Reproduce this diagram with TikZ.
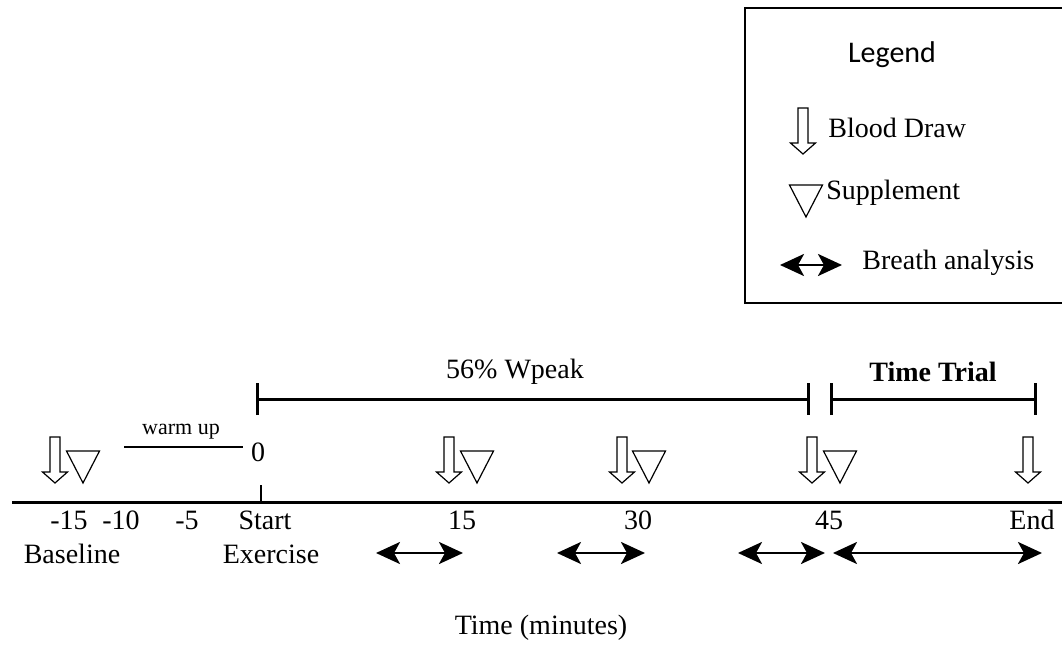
\documentclass[tikz,border=0pt]{standalone}
\usepackage{fontspec}
\setmainfont{Liberation Serif}
\newfontfamily\legendfont{Carlito}
\usetikzlibrary{arrows.meta}

\tikzset{
    blood/.pic={\draw[line width=0.6pt] (-5,0)--(5,0)--(5,35)--(12.5,35)--(0,46)--(-12.5,35)--(-5,35)--cycle;},
    supp/.pic={\draw[line width=0.6pt] (-16.5,0)--(16.5,0)--(0,32)--cycle;},
    lbl/.style={font=\fontsize{14}{17}\selectfont, inner sep=0pt},
    phase/.style={line width=1.5pt, {Bar[width=16pt]}-{Bar[width=16pt]}},
    breath/.style={line width=1.4pt, {Stealth[length=12pt,width=11pt,inset=3pt]}-{Stealth[length=12pt,width=11pt,inset=3pt]}}
}

\begin{document}
\begin{tikzpicture}[x=0.5pt,y=-0.5pt]
                \useasboundingbox (0,0) rectangle (1062,648);
                % legend
                \draw[line width=0.6pt] (745,8) rectangle (1075,303);
                \node[inner sep=0pt] (legend) at (892,55) {\legendfont\fontsize{15}{18}\selectfont Legend};
                \pic at (803,108) {blood};
                \node[lbl,anchor=west] (lblood) at (828,128) {Blood Draw};
                \pic at (806,185) {supp};
                \node[lbl,anchor=west] (lsupp) at (826,193) {Supplement};
                \coordinate (lb1) at (780,265);
                \coordinate (lb2) at (842,265);
                \draw[breath] (lb1)--(lb2);
                \node[lbl,anchor=west] (lbreath) at (862,263) {Breath analysis};
                % time axis
                \coordinate (ax1) at (12,502);
                \coordinate (ax2) at (1075,502);
                \draw[line width=1.5pt] (ax1)--(ax2);
                \coordinate (st) at (261,502);
                \draw[line width=0.8pt] (st)--++(0,-17);
                \coordinate (wu1) at (124,447);
                \coordinate (wu2) at (243,447);
                \draw[line width=0.8pt] (wu1)--(wu2);
                \node[inner sep=0pt,font=\fontsize{11}{13}\selectfont] (warm) at (181,432) {warm up};
                \node[lbl] (zero) at (258,452) {0};
                % blood draws and supplements
                \foreach \bx/\sx in {55/83,449/477,622/649,812/840}{
                    \pic at (\bx,437) {blood};
                    \pic at (\sx,451) {supp};
                }
                \pic at (1028,437) {blood};
                % tick labels
                \foreach \t/\tx in {-15/69,-10/121,-5/187,Start/265,15/462,30/638,45/829,End/1032}{
                    \node[lbl] (t\tx) at (\tx,520) {\t};
                }
                \node[lbl] (base) at (72,554) {Baseline};
                \node[lbl] (exer) at (271,554) {Exercise};
                % phases
                \coordinate (wp1) at (256,399);
                \coordinate (wp2) at (810,399);
                \draw[phase] (wp1)--(wp2);
                \node[lbl] (wpeak) at (515,372) {56\% Wpeak};
                \coordinate (tt1) at (830,399);
                \coordinate (tt2) at (1037,399);
                \draw[phase] (tt1)--(tt2);
                \node[lbl] (trial) at (933,372) {\textbf{Time Trial}};
                % breath analysis
                \foreach \a/\b in {376/463,557/645,738/825,833/1042}{
                    \coordinate (ba\a) at (\a,553);
                    \coordinate (bb\a) at (\b,553);
                    \draw[breath] (ba\a)--(bb\a);
                }
                \node[lbl] (time) at (541,628) {Time (minutes)};
\end{tikzpicture}
\end{document}
